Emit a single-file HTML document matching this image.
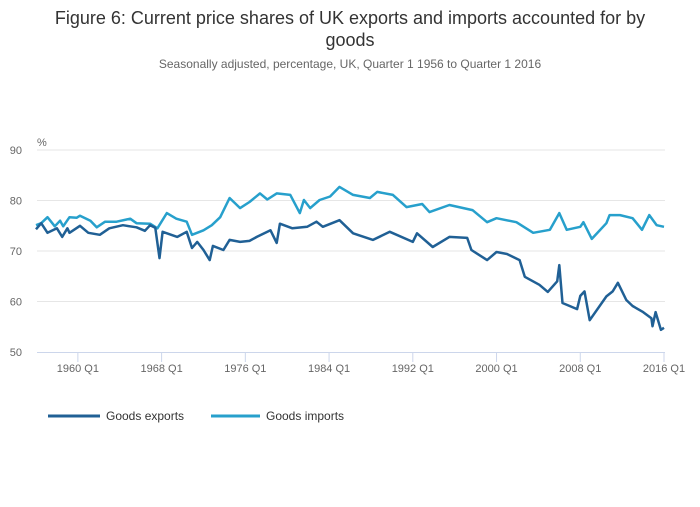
<!DOCTYPE html>
<html><head><meta charset="utf-8"><style>
body{margin:0;background:#fff;font-family:"Liberation Sans",sans-serif;}
svg text{font-family:"Liberation Sans",sans-serif;}
</style></head><body>
<svg id="chart" width="700" height="502" xmlns="http://www.w3.org/2000/svg">
<text x="350" y="24" text-anchor="middle" font-size="18" fill="#333">Figure 6: Current price shares of UK exports and imports accounted for by</text>
<text x="350" y="46" text-anchor="middle" font-size="18" fill="#333">goods</text>
<text x="350" y="68" text-anchor="middle" font-size="12" fill="#666">Seasonally adjusted, percentage, UK, Quarter 1 1956 to Quarter 1 2016</text>
<text x="37" y="146" font-size="11" fill="#666">%</text>
<g id="grid"></g><g id="axis"></g><g id="series"></g>
<g>
<g><line x1="48" y1="416" x2="100" y2="416" stroke="#206095" stroke-width="3"/><text x="106" y="420" font-size="12" fill="#333">Goods exports</text></g>
<g><line x1="211" y1="416" x2="260" y2="416" stroke="#27a0cc" stroke-width="3"/><text x="266" y="420" font-size="12" fill="#333">Goods imports</text></g>
</g>
</svg>
<script>
const yTicks=[50,60,70,80,90];
const xTickYears=[1960,1968,1976,1984,1992,2000,2008,2016];
const xTickLabels=["1960 Q1","1968 Q1","1976 Q1","1984 Q1","1992 Q1","2000 Q1","2008 Q1","2016 Q1"];
const expYears=[1956.0,1956.5,1957.1,1958.0,1958.5,1959.0,1959.2,1960.2,1961.0,1962.1,1963.0,1964.3,1965.6,1966.4,1966.9,1967.4,1967.8,1968.1,1969.5,1970.4,1970.9,1971.4,1972.0,1972.6,1972.9,1973.9,1974.5,1975.5,1976.4,1977.1,1978.4,1979.0,1979.3,1980.5,1981.9,1982.8,1983.4,1985.0,1986.3,1988.2,1989.8,1992.0,1992.4,1993.9,1995.5,1997.2,1997.6,1999.1,2000.0,2001.0,2002.2,2002.7,2004.1,2004.9,2005.8,2006.0,2006.3,2007.7,2008.0,2008.4,2008.9,2010.5,2011.1,2011.6,2012.4,2013.0,2014.0,2014.8,2014.9,2015.2,2015.7,2016.0];
const expValues=[74.3,75.5,73.6,74.5,72.8,74.5,73.6,75.0,73.6,73.2,74.5,75.1,74.7,74.0,75.1,74.6,68.6,73.8,72.8,73.8,70.6,71.8,70.2,68.2,71.0,70.2,72.2,71.8,72.0,72.8,74.1,71.6,75.4,74.5,74.8,75.8,74.8,76.1,73.5,72.2,73.8,71.8,73.5,70.8,72.8,72.6,70.2,68.2,69.8,69.4,68.2,64.9,63.3,61.9,64.0,67.2,59.7,58.5,61.1,62.0,56.3,61.0,62.0,63.7,60.3,59.1,57.9,56.7,55.1,57.9,54.4,54.8];
const impYears=[1956.0,1956.5,1957.1,1957.8,1958.3,1958.6,1959.2,1959.9,1960.2,1961.2,1961.8,1962.6,1963.7,1965.0,1965.6,1966.9,1967.6,1968.5,1969.4,1970.4,1970.9,1972.0,1972.8,1973.6,1974.5,1975.5,1976.4,1977.4,1978.1,1979.0,1980.3,1981.2,1981.6,1982.2,1983.1,1984.1,1985.0,1986.3,1987.9,1988.6,1990.1,1991.4,1992.9,1993.6,1995.5,1997.7,1999.1,2000.0,2001.9,2003.5,2005.1,2006.0,2006.7,2008.0,2008.3,2009.1,2010.5,2010.8,2011.8,2013.0,2013.9,2014.6,2015.3,2016.0];
const impValues=[75.1,75.5,76.7,74.9,76.0,74.9,76.7,76.6,77.0,76.0,74.7,75.8,75.8,76.4,75.5,75.4,74.5,77.5,76.4,75.8,73.2,74.1,75.1,76.7,80.5,78.5,79.7,81.4,80.2,81.4,81.1,77.5,80.1,78.5,80.1,80.8,82.7,81.1,80.5,81.7,81.1,78.7,79.3,77.7,79.1,78.1,75.7,76.5,75.7,73.6,74.2,77.5,74.2,74.8,75.7,72.4,75.5,77.1,77.1,76.5,74.2,77.1,75.1,74.8];

const NS="http://www.w3.org/2000/svg";
const X0=36,X1=664,Y0=352,Y1=150;
function xs(yr){return X0+(yr-1956)*(X1-X0)/(2016-1956);}
function ys(v){return Y0-(v-50)*(Y0-Y1)/(90-50);}
const grid=document.getElementById('grid'),axis=document.getElementById('axis'),ser=document.getElementById('series');
yTicks.forEach(t=>{
  if(t>50){const l=document.createElementNS(NS,'line');
  
  
  l.setAttribute('x1',37);l.setAttribute('x2',665);l.setAttribute('y1',ys(t));l.setAttribute('y2',ys(t));l.setAttribute('stroke','#e6e6e6');grid.appendChild(l);}
  const tx=document.createElementNS(NS,'text');
  
  
  tx.setAttribute('x',22);tx.setAttribute('y',ys(t)+4);tx.setAttribute('text-anchor','end');tx.setAttribute('font-size','11');tx.setAttribute('fill','#666');tx.textContent=t;axis.appendChild(tx);
});
const al=document.createElementNS(NS,'line');


al.setAttribute('x1',37);al.setAttribute('x2',665);al.setAttribute('y1',352.5);al.setAttribute('y2',352.5);al.setAttribute('stroke','#ccd6eb');axis.appendChild(al);
xTickYears.forEach((yr,i)=>{
  const x=xs(yr);
  const tk=document.createElementNS(NS,'line');
  
  
  tk.setAttribute('x1',x);tk.setAttribute('x2',x);tk.setAttribute('y1',352);tk.setAttribute('y2',362);tk.setAttribute('stroke','#ccd6eb');axis.appendChild(tk);
  const tx=document.createElementNS(NS,'text');
  
  
  tx.setAttribute('x',x);tx.setAttribute('y',372);tx.setAttribute('text-anchor','middle');tx.setAttribute('font-size','11');tx.setAttribute('fill','#666');tx.textContent=xTickLabels[i];axis.appendChild(tx);
});
function drawLine(yrs,vals,color,name){
  const p=document.createElementNS(NS,'path');
  
  
  p.setAttribute('d',yrs.map((y,i)=>(i?'L':'M')+xs(y).toFixed(1)+' '+ys(vals[i]).toFixed(1)).join(' '));
  p.setAttribute('fill','none');p.setAttribute('stroke',color);p.setAttribute('stroke-width','2.5');p.setAttribute('stroke-linejoin','round');
  ser.appendChild(p);
}
drawLine(impYears,impValues,'#27a0cc','goods-imports-line');
drawLine(expYears,expValues,'#206095','goods-exports-line');
</script>
</body></html>
